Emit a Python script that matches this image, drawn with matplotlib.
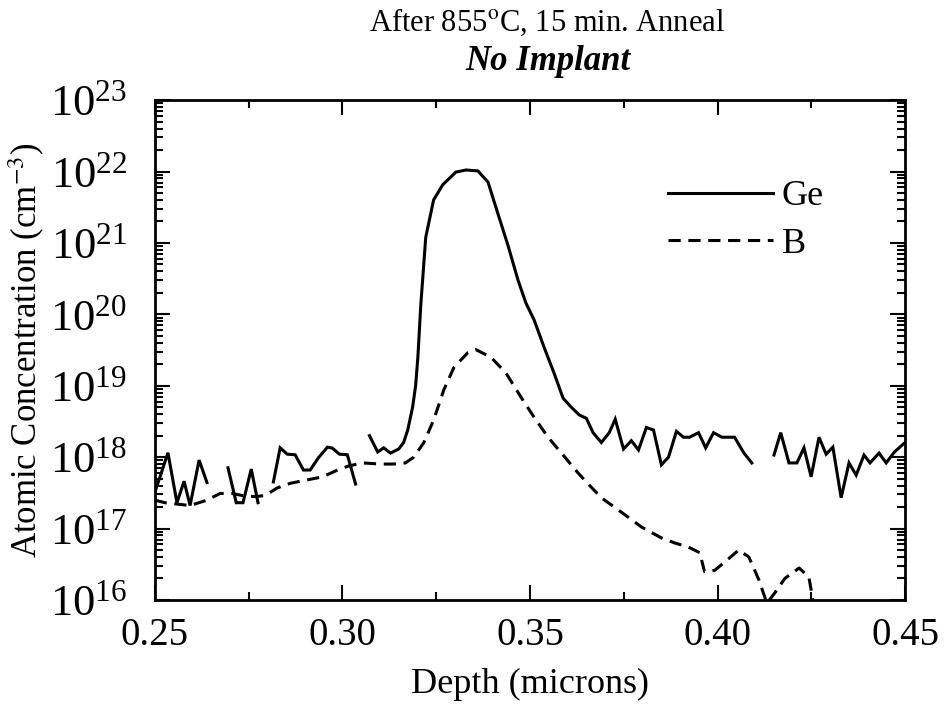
import numpy as np
import matplotlib
matplotlib.use('Agg')
import matplotlib.pyplot as plt
from matplotlib.ticker import LogLocator, MultipleLocator, LogFormatterMathtext, NullFormatter

plt.rcParams['font.family'] = 'Liberation Serif'
plt.rcParams['mathtext.fontset'] = 'stix'

# Ge profile, measured in pieces (gaps where no data)
ge_x1 = [0.2500, 0.2535, 0.2559, 0.2578, 0.2594, 0.2618, 0.2639]
ge_y1 = [3.2e17, 1.15e18, 2.3e17, 4.6e17, 2.1e17, 9.1e17, 4.4e17]

ge_x2 = [0.2695, 0.2717, 0.2735, 0.2757, 0.2775]
ge_y2 = [7.1e17, 2.3e17, 2.3e17, 6.8e17, 2.3e17]

ge_x3 = [0.2816, 0.2834, 0.2853, 0.2874, 0.2896, 0.2914, 0.2936, 0.2960, 0.2973,
         0.2992, 0.3013, 0.3035]
ge_y3 = [4.5e17, 1.35e18, 1.1e18, 1.08e18, 6.6e17, 6.6e17, 9.8e17, 1.38e18, 1.34e18,
         1.1e18, 1.08e18, 4.2e17]

ge_x4 = [0.3072, 0.3094, 0.3110, 0.3128, 0.3150, 0.3163, 0.3174, 0.3187, 0.3195,
         0.3201, 0.3209, 0.3222, 0.3243, 0.3267, 0.3302, 0.3329, 0.3361, 0.3388,
         0.3414, 0.3441, 0.3468, 0.3489, 0.3511, 0.3537, 0.3564, 0.3588, 0.3610,
         0.3631, 0.3650, 0.3668, 0.3690, 0.3711, 0.3727, 0.3749, 0.3770, 0.3789,
         0.3810, 0.3829, 0.3850, 0.3869, 0.3890, 0.3909, 0.3925, 0.3949, 0.3968,
         0.3989, 0.4011, 0.4045, 0.4070, 0.4091]
ge_y4 = [2.0e18, 1.18e18, 1.35e18, 1.14e18, 1.3e18, 1.6e18, 2.4e18, 5.0e18, 1.0e19,
         2.5e19, 1.4e20, 1.2e21, 4.0e21, 6.5e21, 9.8e21, 1.05e22, 1.02e22, 7.1e21,
         2.6e21, 9.3e20, 3.0e20, 1.44e20, 8.3e19, 3.5e19, 1.5e19, 6.7e18, 5.0e18,
         3.9e18, 3.5e18, 2.2e18, 1.6e18, 2.2e18, 3.4e18, 1.3e18, 1.7e18, 1.26e18,
         2.6e18, 2.4e18, 7.8e17, 1.0e18, 2.3e18, 1.9e18, 1.9e18, 2.2e18, 1.35e18,
         2.2e18, 1.9e18, 1.9e18, 1.14e18, 8.3e17]

ge_x5 = [0.4150, 0.4168, 0.4190, 0.4211, 0.4230, 0.4249, 0.4270, 0.4289, 0.4307,
         0.4329, 0.4350, 0.4369, 0.4390, 0.4406, 0.4430, 0.4449, 0.4471, 0.4492, 0.4505]
ge_y5 = [1.07e18, 2.2e18, 8.3e17, 8.3e17, 1.35e18, 5.3e17, 1.9e18, 1.1e18, 1.38e18,
         2.7e17, 8.3e17, 5.6e17, 1.07e18, 8.3e17, 1.14e18, 8.3e17, 1.18e18, 1.48e18, 1.7e18]

# B profile
b_x = [0.2500, 0.2527, 0.2594, 0.2639, 0.2674, 0.2706, 0.2733, 0.2767, 0.2794, 0.2826,
       0.2861, 0.2906, 0.2947, 0.2987, 0.3016, 0.3053, 0.3102, 0.3136, 0.3168, 0.3190,
       0.3217, 0.3243, 0.3270, 0.3297, 0.3334, 0.3356, 0.3396, 0.3436, 0.3476, 0.3511,
       0.3548, 0.3583, 0.3628, 0.3663, 0.3690, 0.3743, 0.3797, 0.3850, 0.3885, 0.3922,
       0.3952, 0.3965, 0.3992, 0.4019, 0.4056, 0.4083, 0.4110, 0.4131, 0.4152, 0.4179,
       0.4217, 0.4243, 0.4257]
b_y = [2.5e17, 2.3e17, 2.1e17, 2.5e17, 3.1e17, 3.1e17, 2.9e17, 2.8e17, 2.9e17, 3.7e17,
       4.3e17, 4.8e17, 5.3e17, 6.6e17, 7.5e17, 8.3e17, 8.0e17, 8.0e17, 8.3e17, 1.0e18,
       1.6e18, 3.3e18, 8.7e18, 1.8e19, 2.9e19, 3.2e19, 2.5e19, 1.5e19, 6.9e18, 3.6e18,
       1.9e18, 1.15e18, 6.0e17, 3.8e17, 2.7e17, 1.7e17, 1.05e17, 7.4e16, 6.3e16, 5.5e16,
       4.6e16, 2.5e16, 2.6e16, 3.4e16, 5.0e16, 4.0e16, 1.9e16, 9.0e15, 1.25e16, 2.0e16,
       2.8e16, 2.1e16, 8.0e15]

fig = plt.figure(figsize=(9.44, 7.10), dpi=100)
ax = fig.add_axes([0.164, 0.155, 0.795, 0.704])

lw = 2.2
ge_pieces = [(ge_x1, ge_y1), (ge_x2, ge_y2), (ge_x3, ge_y3), (ge_x4, ge_y4), (ge_x5, ge_y5)]
for i, (gx, gy) in enumerate(ge_pieces):
    ax.plot(gx, gy, color='black', lw=lw, solid_joinstyle='miter',
            label='Ge' if i == 0 else None)
ax.plot(b_x, b_y, color='black', lw=lw, linestyle=(0, (4, 2.5)), label='B')

ax.set_yscale('log')
ax.set_xlim(0.25, 0.45)
ax.set_ylim(1e16, 1e23)

ax.xaxis.set_minor_locator(MultipleLocator(0.025))
ax.set_xticks([0.25, 0.30, 0.35, 0.40, 0.45])
ax.set_xticklabels(['0.25', '0.30', '0.35', '0.40', '0.45'])
ax.yaxis.set_major_locator(LogLocator(base=10, numticks=10))
ax.yaxis.set_minor_locator(LogLocator(base=10, subs=np.arange(2, 10), numticks=20))
ax.yaxis.set_major_formatter(LogFormatterMathtext())
ax.yaxis.set_minor_formatter(NullFormatter())

ax.tick_params(which='both', direction='in', top=True, right=True, width=1.5)
ax.tick_params(which='major', length=11)
ax.tick_params(which='minor', length=6)
ax.tick_params(axis='x', which='major', labelsize=28, pad=12)
ax.tick_params(axis='y', which='major', labelsize=32, pad=20)
for sp in ax.spines.values():
    sp.set_linewidth(2)

ax.set_xlabel('Depth (microns)', fontsize=26, labelpad=10)
ax.set_ylabel('Atomic Concentration (cm$^{-3}$)', fontsize=25, labelpad=2)

fig.text(0.58, 0.968, 'After 855$^{\\mathrm{o}}$C, 15 min. Anneal', ha='center', va='center', fontsize=22)
fig.text(0.58, 0.913, 'No Implant', ha='center', va='center', fontsize=25,
         fontstyle='italic', fontweight='bold')

ax.legend(loc='upper right', bbox_to_anchor=(0.935, 0.905), frameon=False, fontsize=26,
          handlelength=2.9, handletextpad=0.25, labelspacing=0.4)

fig.savefig('out.png', dpi=100)
